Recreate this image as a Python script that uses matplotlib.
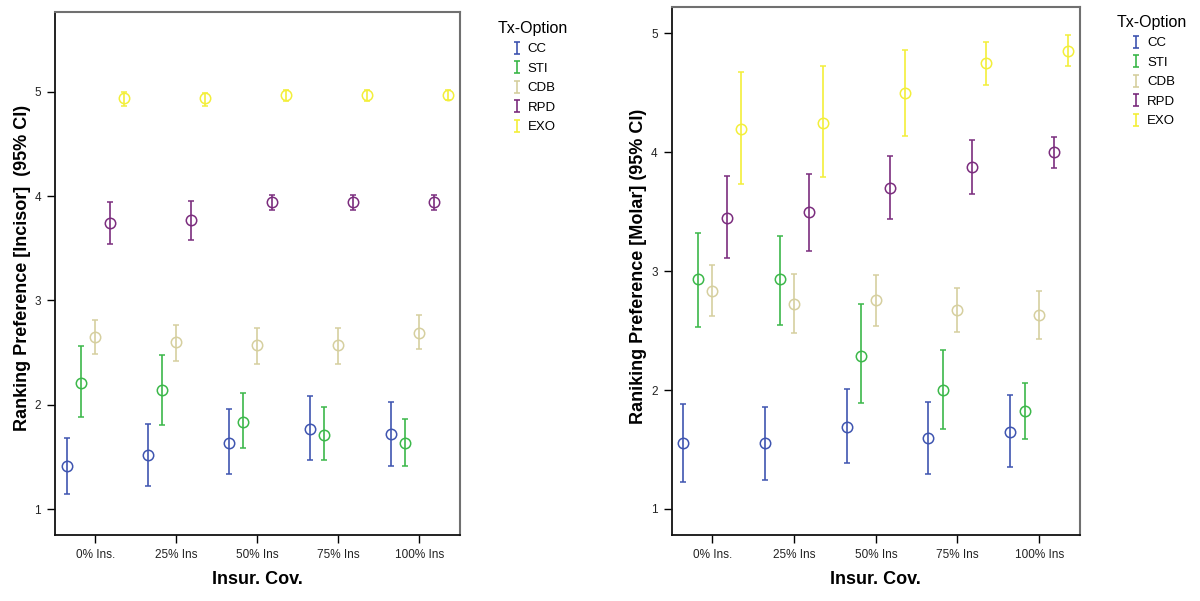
import numpy as np
import matplotlib
matplotlib.use("Agg")
import matplotlib.pyplot as plt
from matplotlib.lines import Line2D
from matplotlib.path import Path

plt.rcParams["font.family"] = ["Liberation Sans", "DejaVu Sans"]

categories = ["0% Ins.", "25% Ins", "50% Ins", "75% Ins", "100% Ins"]
options = ["CC", "STI", "CDB", "RPD", "EXO"]
colors = ["#3f55b0", "#3cb84a", "#d6cf9f", "#7b2d7e", "#f3ef3a"]

# Incisor: mean, lower CI, upper CI for each option across coverage levels
incisor_mean = {
    "CC":  [1.42, 1.52, 1.64, 1.77, 1.72],
    "STI": [2.21, 2.14, 1.84, 1.71, 1.64],
    "CDB": [2.65, 2.60, 2.57, 2.57, 2.69],
    "RPD": [3.74, 3.77, 3.94, 3.94, 3.94],
    "EXO": [4.94, 4.94, 4.97, 4.97, 4.97],
}
incisor_low = {
    "CC":  [1.15, 1.22, 1.34, 1.47, 1.42],
    "STI": [1.88, 1.81, 1.59, 1.47, 1.42],
    "CDB": [2.49, 2.42, 2.39, 2.39, 2.54],
    "RPD": [3.54, 3.58, 3.87, 3.87, 3.87],
    "EXO": [4.86, 4.86, 4.91, 4.91, 4.92],
}
incisor_high = {
    "CC":  [1.68, 1.82, 1.96, 2.09, 2.03],
    "STI": [2.56, 2.48, 2.11, 1.98, 1.87],
    "CDB": [2.81, 2.77, 2.74, 2.74, 2.86],
    "RPD": [3.94, 3.95, 4.01, 4.01, 4.01],
    "EXO": [5.00, 4.99, 5.01, 5.01, 5.01],
}

# Molar
molar_mean = {
    "CC":  [1.55, 1.55, 1.69, 1.60, 1.65],
    "STI": [2.93, 2.93, 2.29, 2.00, 1.82],
    "CDB": [2.83, 2.72, 2.76, 2.67, 2.63],
    "RPD": [3.45, 3.50, 3.70, 3.88, 4.00],
    "EXO": [4.20, 4.25, 4.50, 4.75, 4.85],
}
molar_low = {
    "CC":  [1.23, 1.24, 1.39, 1.29, 1.35],
    "STI": [2.53, 2.55, 1.89, 1.67, 1.59],
    "CDB": [2.62, 2.48, 2.54, 2.49, 2.43],
    "RPD": [3.11, 3.17, 3.44, 3.65, 3.87],
    "EXO": [3.73, 3.79, 4.14, 4.57, 4.73],
}
molar_high = {
    "CC":  [1.88, 1.86, 2.01, 1.90, 1.96],
    "STI": [3.32, 3.30, 2.72, 2.34, 2.06],
    "CDB": [3.05, 2.98, 2.97, 2.86, 2.83],
    "RPD": [3.80, 3.82, 3.97, 4.10, 4.13],
    "EXO": [4.68, 4.73, 4.86, 4.93, 4.99],
}

# "I" shaped glyph for the legend (error bar with caps)
ibar = Path([(-0.5, 1), (0.5, 1), (0, 1), (0, -1), (-0.5, -1), (0.5, -1)],
            [Path.MOVETO, Path.LINETO, Path.MOVETO, Path.LINETO,
             Path.MOVETO, Path.LINETO])


def draw_panel(ax, mean, low, high, ylabel, ylim):
    x = np.arange(len(categories))
    offsets = np.linspace(-0.355, 0.355, len(options))
    for opt, col, off in zip(options, colors, offsets):
        m = np.array(mean[opt])
        lo = np.array(low[opt])
        hi = np.array(high[opt])
        ax.errorbar(x + off, m, yerr=[m - lo, hi - m], fmt="o", mfc="none",
                    mec=col, ms=7.5, mew=1.1, ecolor=col, elinewidth=1.2,
                    capsize=2.5, capthick=1.2)
    ax.set_xlim(-0.5, 4.5)
    ax.set_ylim(*ylim)
    ax.set_xticks(x)
    ax.set_xticklabels(categories, fontsize=8.5, color="#222222")
    ax.set_yticks([1, 2, 3, 4, 5])
    ax.set_yticklabels(["1", "2", "3", "4", "5"], fontsize=8.5, color="#222222")
    ax.tick_params(length=6, width=1.0, pad=4)
    ax.set_xlabel("Insur. Cov.", fontsize=13, fontweight="bold")
    ax.xaxis.set_label_coords(0.5, -0.068)
    ax.set_ylabel(ylabel, fontsize=13, fontweight="bold")
    ax.yaxis.set_label_coords(-0.060, 0.51)
    for side in ["left", "bottom"]:
        ax.spines[side].set_color("#111111")
        ax.spines[side].set_linewidth(1.3)
    for side in ["top", "right"]:
        ax.spines[side].set_color("#707070")
        ax.spines[side].set_linewidth(1.5)


fig = plt.figure(figsize=(12, 6.01), dpi=100)
ax1 = fig.add_axes([0.0458, 0.1098, 0.3375, 0.870])
ax2 = fig.add_axes([0.5597, 0.1098, 0.3403, 0.878])

draw_panel(ax1, incisor_mean, incisor_low, incisor_high,
           "Ranking Preference [Incisor]  (95% CI)", (0.755, 5.76))
draw_panel(ax2, molar_mean, molar_low, molar_high,
           "Raniking Preference [Molar] (95% CI)", (0.78, 5.22))

handles = [Line2D([], [], color=c, marker=ibar, markersize=9, mew=1.2,
                  linestyle="none") for c in colors]

for anchor in [(0.405, 0.985), (0.921, 0.995)]:
    fig.legend(handles, options, loc="upper left", bbox_to_anchor=anchor,
               frameon=False, title="Tx-Option", title_fontsize=11.5,
               fontsize=9.5, handlelength=1.0, handletextpad=0.35,
               labelspacing=0.55)

fig.savefig("out.png", dpi=100)
